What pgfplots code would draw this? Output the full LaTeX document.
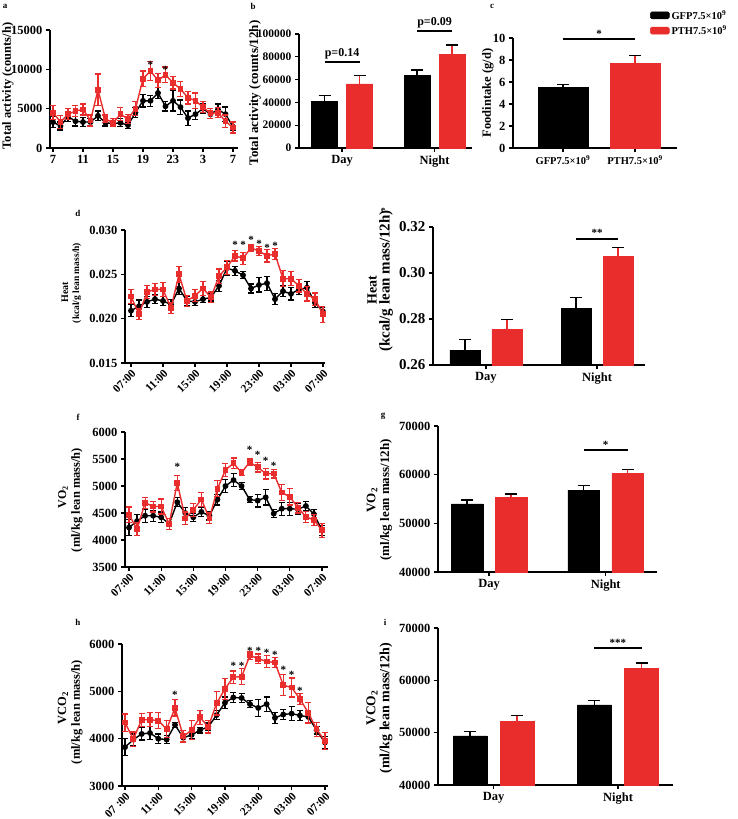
\documentclass[border=0pt]{standalone}
\usepackage{fontspec}
\setmainfont{Liberation Serif}
\usepackage{pgfplots}
\pgfplotsset{compat=1.18}
\usepackage{pgfplotstable}
\definecolor{pred}{RGB}{233,45,45}
\newcommand{\fs}[1]{\fontsize{#1}{#1}\selectfont\bfseries}

\tikzset{ast/.style={font=\fs{11}, inner sep=0pt, yshift=-2pt},
  brk/.style={line width=2pt},
  ylab/.style={rotate=90, inner sep=0pt}}

\pgfplotsset{
  base/.style={scale only axis, anchor=south west, axis lines*=left,
    axis line style={-, line width=1.4pt}, tick align=outside,
    major tick length=4pt, tick style={black, line width=1.3pt},
    scaled ticks=false,
    clip mode=individual, tick label style={font=\fs{12.5}}},
  hours/.style={base, xtick={0,4,...,24},
    xticklabels={07:00,11:00,15:00,19:00,23:00,03:00,07:00},
    xticklabel style={rotate=45, anchor=north east, inner sep=1pt, font=\fs{11.5}}},
  dn/.style={base, ybar, xtick={0,1}, xticklabels={Day,Night}, bar width=#1},
  ser/.style={line width=1.4pt, error bars/y dir=both, error bars/y explicit,
    error bars/error bar style={line width=1.2pt},
    error bars/error mark options={rotate=90, mark size=3pt, line width=1.2pt}},
  sblk/.style={ser, black, mark=*, mark size=2.2pt},
  sred/.style={ser, pred, mark=square*, mark size=2.2pt},
  bsty/.style={error bars/y dir=plus, error bars/y explicit,
    error bars/error bar style={line width=1.3pt},
    error bars/error mark options={rotate=90, mark size=6pt, line width=1.3pt}},
  bblk/.style={bsty, fill=black, draw=black},
  bred/.style={bsty, fill=pred, draw=pred},
}

% hourly data: h = hours after 07:00, b/be = GFP mean/SEM, r/re = PTH mean/SEM
\pgfplotstableread{
h b be r re
0 3300 700 4500 900
1 2800 500 3300 800
2 4000 600 4300 700
3 3400 600 4700 700
4 3300 600 4900 700
5 3300 500 3500 700
6 4100 600 7400 2000
7 3200 400 3700 500
8 3100 400 3200 500
9 3200 500 4300 800
10 2900 400 3700 600
11 4500 600 5000 900
12 6000 800 8800 1000
13 6000 700 9800 1200
14 7000 700 8600 900
15 5300 600 9300 1000
16 6000 1300 8300 800
17 5200 900 7500 1000
18 3800 900 6400 800
19 4300 700 6000 1000
20 5000 600 5200 700
21 4300 500 4400 600
22 4900 700 4500 600
23 4300 900 3400 800
24 2700 500 2600 700
}\tabA

\pgfplotstableread{
h b be r re
0 0.0209 0.0007 0.0225 0.0008
1 0.0214 0.0007 0.0205 0.0006
2 0.0219 0.0006 0.0230 0.0007
3 0.0222 0.0005 0.0233 0.0007
4 0.0220 0.0005 0.0233 0.0008
5 0.0216 0.0006 0.0212 0.0006
6 0.0234 0.0007 0.0250 0.0009
7 0.0220 0.0005 0.0220 0.0006
8 0.0219 0.0004 0.0226 0.0007
9 0.0222 0.0004 0.0234 0.0008
10 0.0224 0.0004 0.0224 0.0006
11 0.0237 0.0006 0.0248 0.0008
12 0.0257 0.0008 0.0258 0.0008
13 0.0254 0.0005 0.0271 0.0006
14 0.0249 0.0004 0.0268 0.0007
15 0.0234 0.0005 0.0280 0.0004
16 0.0238 0.0008 0.0276 0.0005
17 0.0240 0.0008 0.0271 0.0007
18 0.0222 0.0006 0.0273 0.0006
19 0.0231 0.0006 0.0245 0.0009
20 0.0228 0.0007 0.0245 0.0008
21 0.0233 0.0006 0.0237 0.0007
22 0.0235 0.0007 0.0228 0.0008
23 0.0218 0.0005 0.0222 0.0007
24 0.0208 0.0005 0.0205 0.0009
}\tabD

\pgfplotstableread{
h b be r re
0 4230 150 4470 140
1 4350 120 4200 120
2 4450 120 4690 100
3 4450 100 4620 100
4 4420 100 4620 140
5 4300 100 4300 100
6 4700 80 5060 140
7 4500 100 4400 120
8 4420 70 4560 120
9 4520 80 4750 130
10 4450 80 4400 100
11 4750 100 4950 150
12 5000 120 5300 120
13 5110 120 5420 100
14 5000 60 5250 60
15 4750 60 5440 60
16 4730 120 5350 90
17 4790 140 5230 100
18 4490 80 5230 80
19 4580 120 4880 150
20 4580 120 4800 150
21 4570 100 4600 100
22 4630 90 4430 100
23 4480 80 4370 100
24 4180 90 4180 130
}\tabF

\pgfplotstableread{
h b be r re
0 3820 180 4340 180
1 3980 120 3990 150
2 4100 130 4400 140
3 4120 130 4400 150
4 4000 100 4380 170
5 3980 80 4200 180
6 4290 60 4650 170
7 4020 80 4050 120
8 4080 80 4180 200
9 4180 60 4450 150
10 4250 80 4250 130
11 4500 100 4750 250
12 4760 120 5050 220
13 4870 100 5300 130
14 4860 90 5310 170
15 4730 70 5760 80
16 4650 180 5690 100
17 4730 150 5630 120
18 4440 120 5610 100
19 4510 110 5130 220
20 4530 150 5080 200
21 4490 100 4840 120
22 4460 120 4550 220
23 4180 80 4200 150
24 3920 120 3950 180
}\tabH

\begin{document}
\begin{tikzpicture}
\path[use as bounding box] (0,0) rectangle (738pt,-819pt);

% ---- panel letters and y labels
\foreach \l/\x/\y in {a/5/6, b/253/6, c/492/6, d/78/213, e/383/210, f/78/417, g/383/416, h/78/622, i/385/622}
  \node[font=\fs{9}] at (\x pt,-\y pt) {\l};
\node[ylab, font=\fs{12.5}] at (8pt,-86pt) {Total activity (counts/h)};
\node[ylab, font=\fs{13}] at (255pt,-93pt) {Total activity (counts/12h)};
\node[ylab, font=\fs{12.5}] at (488pt,-93pt) {Foodintake (g/d)};
\node[ylab, font=\fs{10}] at (65pt,-292pt) {Heat};
\node[ylab, font=\fs{9.5}] at (77pt,-283pt) {(kcal/g lean mass/h)};
\node[ylab, font=\fs{14}] at (372pt,-290pt) {Heat};
\node[ylab, font=\fs{15}] at (386pt,-281pt) {(kcal/g lean mass/12h)};
\node[ylab, font=\fs{12}] at (63pt,-497pt) {VO\textsubscript{2}};
\node[ylab, font=\fs{12.5}] at (77pt,-500pt) {(ml/kg lean mass/h)};
\node[ylab, font=\fs{13}] at (372pt,-500pt) {VO\textsubscript{2}};
\node[ylab, font=\fs{13}] at (386pt,-500pt) {(ml/kg lean mass/12h)};
\node[ylab, font=\fs{12.5}] at (63pt,-708pt) {VCO\textsubscript{2}};
\node[ylab, font=\fs{12.5}] at (77pt,-712pt) {(ml/kg lean mass/h)};
\node[ylab, font=\fs{13.5}] at (372pt,-708pt) {VCO\textsubscript{2}};
\node[ylab, font=\fs{14}] at (386pt,-708pt) {(ml/kg lean mass/12h)};

% ---- a
\begin{axis}[base, at={(50pt,-148pt)}, width=188pt, height=118pt,
  xmin=-0.4, xmax=24.67, ymin=0, ymax=15000,
  xtick={0,4,...,24}, xticklabels={7,11,15,19,23,3,7},
  ytick={0,5000,10000,15000}, yticklabels={0,5000,10000,15000}]
\addplot[sblk] table[x=h, y=b, y error=be] {\tabA};
\addplot[sred] table[x=h, y=r, y error=re] {\tabA};
\node[ast] at (13,10800) {*};
\node[ast] at (15,10200) {*};
\end{axis}

% ---- b
\begin{axis}[dn=0.281, at={(299pt,-148pt)}, width=173pt, height=114pt,
  xmin=-0.465, xmax=1.405, ymin=0, ymax=100000,
  ytick={0,20000,...,100000}, yticklabels={0,20000,40000,60000,80000,100000},
  yticklabel style={font=\fs{11.5}}]
\addplot[bblk, bar shift=-0.189] coordinates {(0,41000) +- (0,5000) (1,63500) +- (0,5000)};
\addplot[bred, bar shift=0.189] coordinates {(0,56200) +- (0,7300) (1,82300) +- (0,8100)};
\draw[brk] (-0.189,75700) -- (0.189,75700) node[midway, above, font=\fs{12}, inner sep=1.5pt] {p=0.14};
\draw[brk] (0.811,103000) -- (1.189,103000) node[midway, above, font=\fs{12}, inner sep=1.5pt] {p=0.09};
\end{axis}

% ---- c
\begin{axis}[base, ybar, at={(513pt,-148pt)}, width=164pt, height=110pt,
  xmin=-0.694, xmax=1.583, ymin=0, ymax=10, bar width=0.694,
  xtick={0,1}, xticklabels={GFP7.5×10\textsuperscript{9}, PTH7.5×10\textsuperscript{9}},
  xticklabel style={font=\fs{10.5}},
  ytick={0,2,...,10}, yticklabels={0,2,4,6,8,10},
  legend style={at={(0.835,1.273)}, anchor=north west, draw=none, fill=none,
    font=\fs{10.5}, inner sep=0pt, row sep=1pt, legend cell align=left}]
\addplot[bblk, bar shift=0, forget plot] coordinates {(0,5.5) +- (0,0.25)};
\addplot[bred, bar shift=0, forget plot] coordinates {(1,7.7) +- (0,0.7)};
\addlegendimage{legend image code/.code={\fill[black, rounded corners=1.5pt] (0pt,-3.5pt) rectangle (19pt,3.5pt);}}
\addlegendentry{GFP7.5×10\textsuperscript{9}}
\addlegendimage{legend image code/.code={\fill[pred, rounded corners=1.5pt] (0pt,-3.5pt) rectangle (19pt,3.5pt);}}
\addlegendentry{PTH7.5×10\textsuperscript{9}}
\draw[brk] (0,9.9) -- (1,9.9) node[midway, above, font=\fs{11}, inner sep=1pt] {*};
\end{axis}

% ---- d
\begin{axis}[hours, at={(125pt,-363pt)}, width=200pt, height=133pt,
  xmin=-0.75, xmax=24.25, ymin=0.015, ymax=0.030,
  ytick={0.015,0.020,0.025,0.030}, yticklabels={0.015,0.020,0.025,0.030}]
\addplot[sblk] table[x=h, y=b, y error=be] {\tabD};
\addplot[sred] table[x=h, y=r, y error=re] {\tabD};
\foreach \p/\q in {13/0.02857, 14/0.02857, 15/0.02906, 16/0.02861, 17/0.0282, 18/0.02839}
  {\edef\tmp{\noexpand\node[ast] at (\p,\q) {*};}\tmp}
\end{axis}

% ---- e
\begin{axis}[dn=0.27, at={(433pt,-365pt)}, width=212pt, height=138pt,
  xmin=-0.477, xmax=1.432, ymin=0.26, ymax=0.32,
  ytick={0.26,0.28,0.30,0.32}, yticklabels={0.26,0.28,0.30,0.32},
  yticklabel style={font=\fs{15}}]
\addplot[bblk, bar shift=-0.189] coordinates {(0,0.2665) +- (0,0.0045) (1,0.2845) +- (0,0.0047)};
\addplot[bred, bar shift=0.189] coordinates {(0,0.2754) +- (0,0.0045) (1,0.3072) +- (0,0.0040)};
\draw[brk] (0.811,0.3148) -- (1.189,0.3148) node[midway, above, font=\fs{11}, inner sep=1pt] {**};
\end{axis}

% ---- f
\begin{axis}[hours, at={(125pt,-567pt)}, width=203pt, height=135pt,
  xmin=-0.5, xmax=24.75, ymin=3500, ymax=6000,
  ytick={3500,4000,...,6000}, yticklabels={3500,4000,4500,5000,5500,6000}]
\addplot[sblk] table[x=h, y=b, y error=be] {\tabF};
\addplot[sred] table[x=h, y=r, y error=re] {\tabF};
\foreach \p/\q in {6/5390, 15/5700, 16/5610, 17/5500, 18/5410}
  {\edef\tmp{\noexpand\node[ast] at (\p,\q) {*};}\tmp}
\end{axis}

% ---- g
\begin{axis}[dn=0.27, at={(438pt,-572pt)}, width=219pt, height=146pt,
  xmin=-0.438, xmax=1.44, ymin=40000, ymax=70000,
  ytick={40000,50000,60000,70000}, yticklabels={40000,50000,60000,70000}]
\addplot[bblk, bar shift=-0.189] coordinates {(0,54000) +- (0,800) (1,56800) +- (0,1000)};
\addplot[bred, bar shift=0.189] coordinates {(0,55300) +- (0,700) (1,60200) +- (0,800)};
\draw[brk] (0.811,65000) -- (1.189,65000) node[midway, above, font=\fs{11}, inner sep=1pt] {*};
\end{axis}

% ---- h
\begin{axis}[hours, at={(122pt,-786pt)}, width=206pt, height=142pt,
  xmin=-0.36, xmax=24.37, ymin=3000, ymax=6000,
  ytick={3000,4000,5000,6000}, yticklabels={3000,4000,5000,6000},
  xticklabels={07 :00,11:00,15:00,19:00,23:00,03:00,07:00}]
\addplot[sblk] table[x=h, y=b, y error=be] {\tabH};
\addplot[sred] table[x=h, y=r, y error=re] {\tabH};
\foreach \p/\q in {6/4960, 13/5580, 14/5580, 15/5900, 16/5900, 17/5850, 18/5810, 19/5500, 20/5390, 21/5050}
  {\edef\tmp{\noexpand\node[ast] at (\p,\q) {*};}\tmp}
\end{axis}

% ---- i
\begin{axis}[dn=0.273, at={(438pt,-785pt)}, width=235pt, height=157pt,
  xmin=-0.446, xmax=1.442, ymin=40000, ymax=70000,
  ytick={40000,50000,60000,70000}, yticklabels={40000,50000,60000,70000}]
\addplot[bblk, bar shift=-0.189] coordinates {(0,49400) +- (0,800) (1,55300) +- (0,900)};
\addplot[bred, bar shift=0.189] coordinates {(0,52100) +- (0,1200) (1,62300) +- (0,1000)};
\draw[brk] (0.811,66180) -- (1.189,66180) node[midway, above, font=\fs{11}, inner sep=1pt] {***};
\end{axis}
\end{tikzpicture}
\end{document}
